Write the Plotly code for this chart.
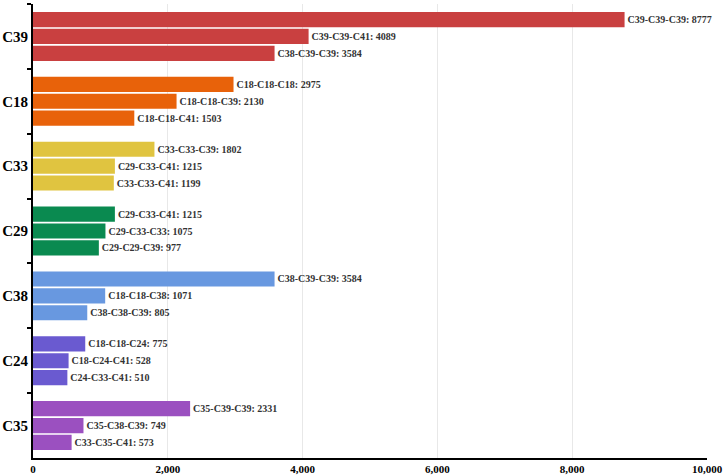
import plotly.graph_objects as go

groups = ["C39", "C18", "C33", "C29", "C38", "C24", "C35"]
colors = ["#c94040", "#e8620a", "#e0c440", "#0a8a50", "#6898e0", "#6a5ad0", "#9b50c0"]

names1 = ["C39-C39-C39", "C18-C18-C18", "C33-C33-C39", "C29-C33-C41", "C38-C39-C39", "C18-C18-C24", "C35-C39-C39"]
vals1 = [8777, 2975, 1802, 1215, 3584, 775, 2331]
names2 = ["C39-C39-C41", "C18-C18-C39", "C29-C33-C41", "C29-C33-C33", "C18-C18-C38", "C18-C24-C41", "C35-C38-C39"]
vals2 = [4089, 2130, 1215, 1075, 1071, 528, 749]
names3 = ["C38-C39-C39", "C18-C18-C41", "C33-C33-C41", "C29-C29-C39", "C38-C38-C39", "C24-C33-C41", "C33-C35-C41"]
vals3 = [3584, 1503, 1199, 977, 805, 510, 573]

x_ticks = [0, 2000, 4000, 6000, 8000, 10000]

SERIF = "Liberation Serif, Times New Roman, serif"

fig = go.Figure()
for names, vals in [(names1, vals1), (names2, vals2), (names3, vals3)]:
    fig.add_trace(go.Bar(
        y=groups, x=vals, orientation="h",
        marker=dict(color=colors, line=dict(width=0)),
        text=[f"{n}: {v}" for n, v in zip(names, vals)],
        textposition="outside",
        textfont=dict(family=SERIF, size=10, color="#333333", weight="bold"),
        cliponaxis=False,
        showlegend=False,
        hoverinfo="skip",
    ))

fig.update_layout(
    width=723, height=476,
    margin=dict(l=33, r=16, t=4, b=18),
    barmode="group", bargap=0.22, bargroupgap=0.1,
    plot_bgcolor="white", paper_bgcolor="white",
    font=dict(family=SERIF, color="black"),
)
fig.update_xaxes(
    range=[0, 10000], tickvals=x_ticks, tickformat=",d",
    showgrid=True, gridcolor="#e8e8e8", gridwidth=1,
    showline=True, linecolor="black", linewidth=2,
    ticks="", zeroline=False, automargin=False,
    tickfont=dict(family=SERIF, size=11, color="black", weight="bold"),
)
fig.update_yaxes(
    autorange="reversed", categoryorder="array", categoryarray=groups,
    showline=True, linecolor="black", linewidth=2,
    ticks="outside", tickson="boundaries", ticklen=4, tickcolor="black", tickwidth=2,
    showgrid=False, automargin=False,
    tickfont=dict(family=SERIF, size=15, color="black", weight="bold"),
)

fig.write_html("out.html")
